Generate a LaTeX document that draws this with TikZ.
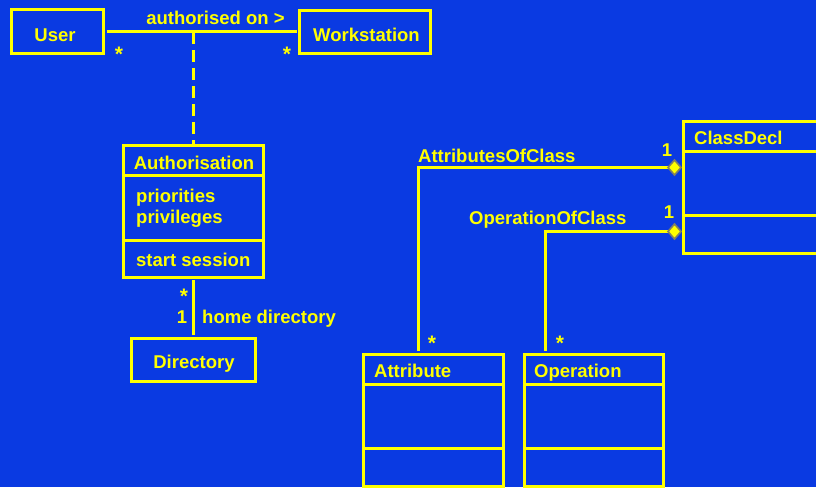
\documentclass[tikz,border=0pt]{standalone}
\usepackage{fontspec}
\setmainfont{Liberation Sans}
\definecolor{bgblue}{RGB}{10,58,226}
\definecolor{umlyellow}{RGB}{255,255,0}
\definecolor{diamondrim}{RGB}{128,128,100}
\begin{document}
\begin{tikzpicture}[x=1pt,y=-1pt,
  umlbox/.style={draw=umlyellow,line width=3pt,rectangle,inner sep=0pt,outer sep=0pt},
  link/.style={draw=umlyellow,line width=3pt},
  lbl/.style={text=umlyellow,font=\fontsize{18.5}{22}\selectfont\bfseries,inner sep=0pt,anchor=base},
  lblw/.style={lbl,anchor=base west},
  mult/.style={lbl,font=\fontsize{21}{24}\selectfont\bfseries},
  aggpt/.style={rectangle,inner sep=0pt,outer sep=0pt,minimum width=13pt,minimum height=15pt},
  aggfill/.style={fill=umlyellow,draw=diamondrim,line width=1.6pt,line join=miter}
]
\useasboundingbox (0,0) rectangle (816,487);
\fill[bgblue] (0,0) rectangle (816,487);
\clip (0,0) rectangle (816,487);

% class boxes
\node[umlbox,minimum width=92pt,minimum height=44pt] (user) at (57.5,32) {};
\node[umlbox,minimum width=131pt,minimum height=43pt] (ws) at (365,32) {};
\node[umlbox,minimum width=140pt,minimum height=131.5pt] (auth) at (193.5,211.25) {};
\node[umlbox,minimum width=124pt,minimum height=43pt] (dir) at (193.5,360) {};
\node[umlbox,minimum width=150pt,minimum height=131.5pt] (cls) at (758.5,187.25) {};
\node[umlbox,minimum width=140pt,minimum height=132pt] (attr) at (433.5,420) {};
\node[umlbox,minimum width=139pt,minimum height=132pt] (oper) at (594,420) {};

% compartment dividers
\draw[link] (auth.west |- 0,175.5) -- (auth.east |- 0,175.5);
\draw[link] (auth.west |- 0,240.5) -- (auth.east |- 0,240.5);
\draw[link] (cls.west |- 0,151) -- (cls.east |- 0,151);
\draw[link] (cls.west |- 0,215.5) -- (cls.east |- 0,215.5);
\draw[link] (attr.west |- 0,384) -- (attr.east |- 0,384);
\draw[link] (attr.west |- 0,448) -- (attr.east |- 0,448);
\draw[link] (oper.west |- 0,384) -- (oper.east |- 0,384);
\draw[link] (oper.west |- 0,448) -- (oper.east |- 0,448);

% class names and members
\node[lbl] (tUser) at (55,42) {User};
\node[lbl] (tWs) at (366.5,42) {Workstation};
\node[lbl] (tAuth) at (194,169) {Authorisation};
\node[lblw] (tPrio) at (136,202) {priorities};
\node[lblw] (tPriv) at (136,223.5) {privileges};
\node[lblw] (tStart) at (136,266) {start session};
\node[lbl] (tDir) at (194,368) {Directory};
\node[lblw] (tCls) at (694,144) {ClassDecl};
\node[lblw] (tAttr) at (374,377) {Attribute};
\node[lblw] (tOper) at (534,377) {Operation};

% association User -- Workstation with its association class
\draw[link,shorten <=3pt,shorten >=3pt] (user.east) -- (ws.west);
\coordinate (assoc) at (193.5,32);
\draw[link,dash pattern=on 12pt off 6pt] (assoc) -- (auth.north);
\node[lbl] (tAuthOn) at (215.5,25) {authorised on >};
\node[mult] (mUser) at (119,62) {*};
\node[mult] (mWs) at (287,62) {*};

% home directory association
\draw[link,shorten <=3pt,shorten >=4pt] (auth.south) -- (dir.north);
\node[mult] (mAuth) at (184,303) {*};
\node[lbl] (mDir) at (182,323) {1};
\node[lblw] (tHome) at (202,323) {home directory};

% aggregations to ClassDecl (diamond at the whole end)
\node[aggpt] (dA) at (674.5,167.5) {};
\node[aggpt] (dO) at (674.5,231.5) {};
\draw[link,shorten >=3pt] (dA.west) -| ([xshift=-15.5pt]attr.north);
\draw[link,shorten >=3pt] (dO.west) -| ([xshift=-48.5pt]oper.north);
\draw[aggfill] (dA.west) -- (dA.north) -- (dA.east) -- (dA.south) -- cycle;
\draw[aggfill] (dO.west) -- (dO.north) -- (dO.east) -- (dO.south) -- cycle;
\node[lblw] (tAoC) at (418,162) {AttributesOfClass};
\node[lblw] (tOoC) at (469,224) {OperationOfClass};
\node[lbl] (mA1) at (667,156) {1};
\node[lbl] (mO1) at (669,218) {1};
\node[mult] (mAs) at (432,350) {*};
\node[mult] (mOs) at (560,350) {*};
\end{tikzpicture}
\end{document}
